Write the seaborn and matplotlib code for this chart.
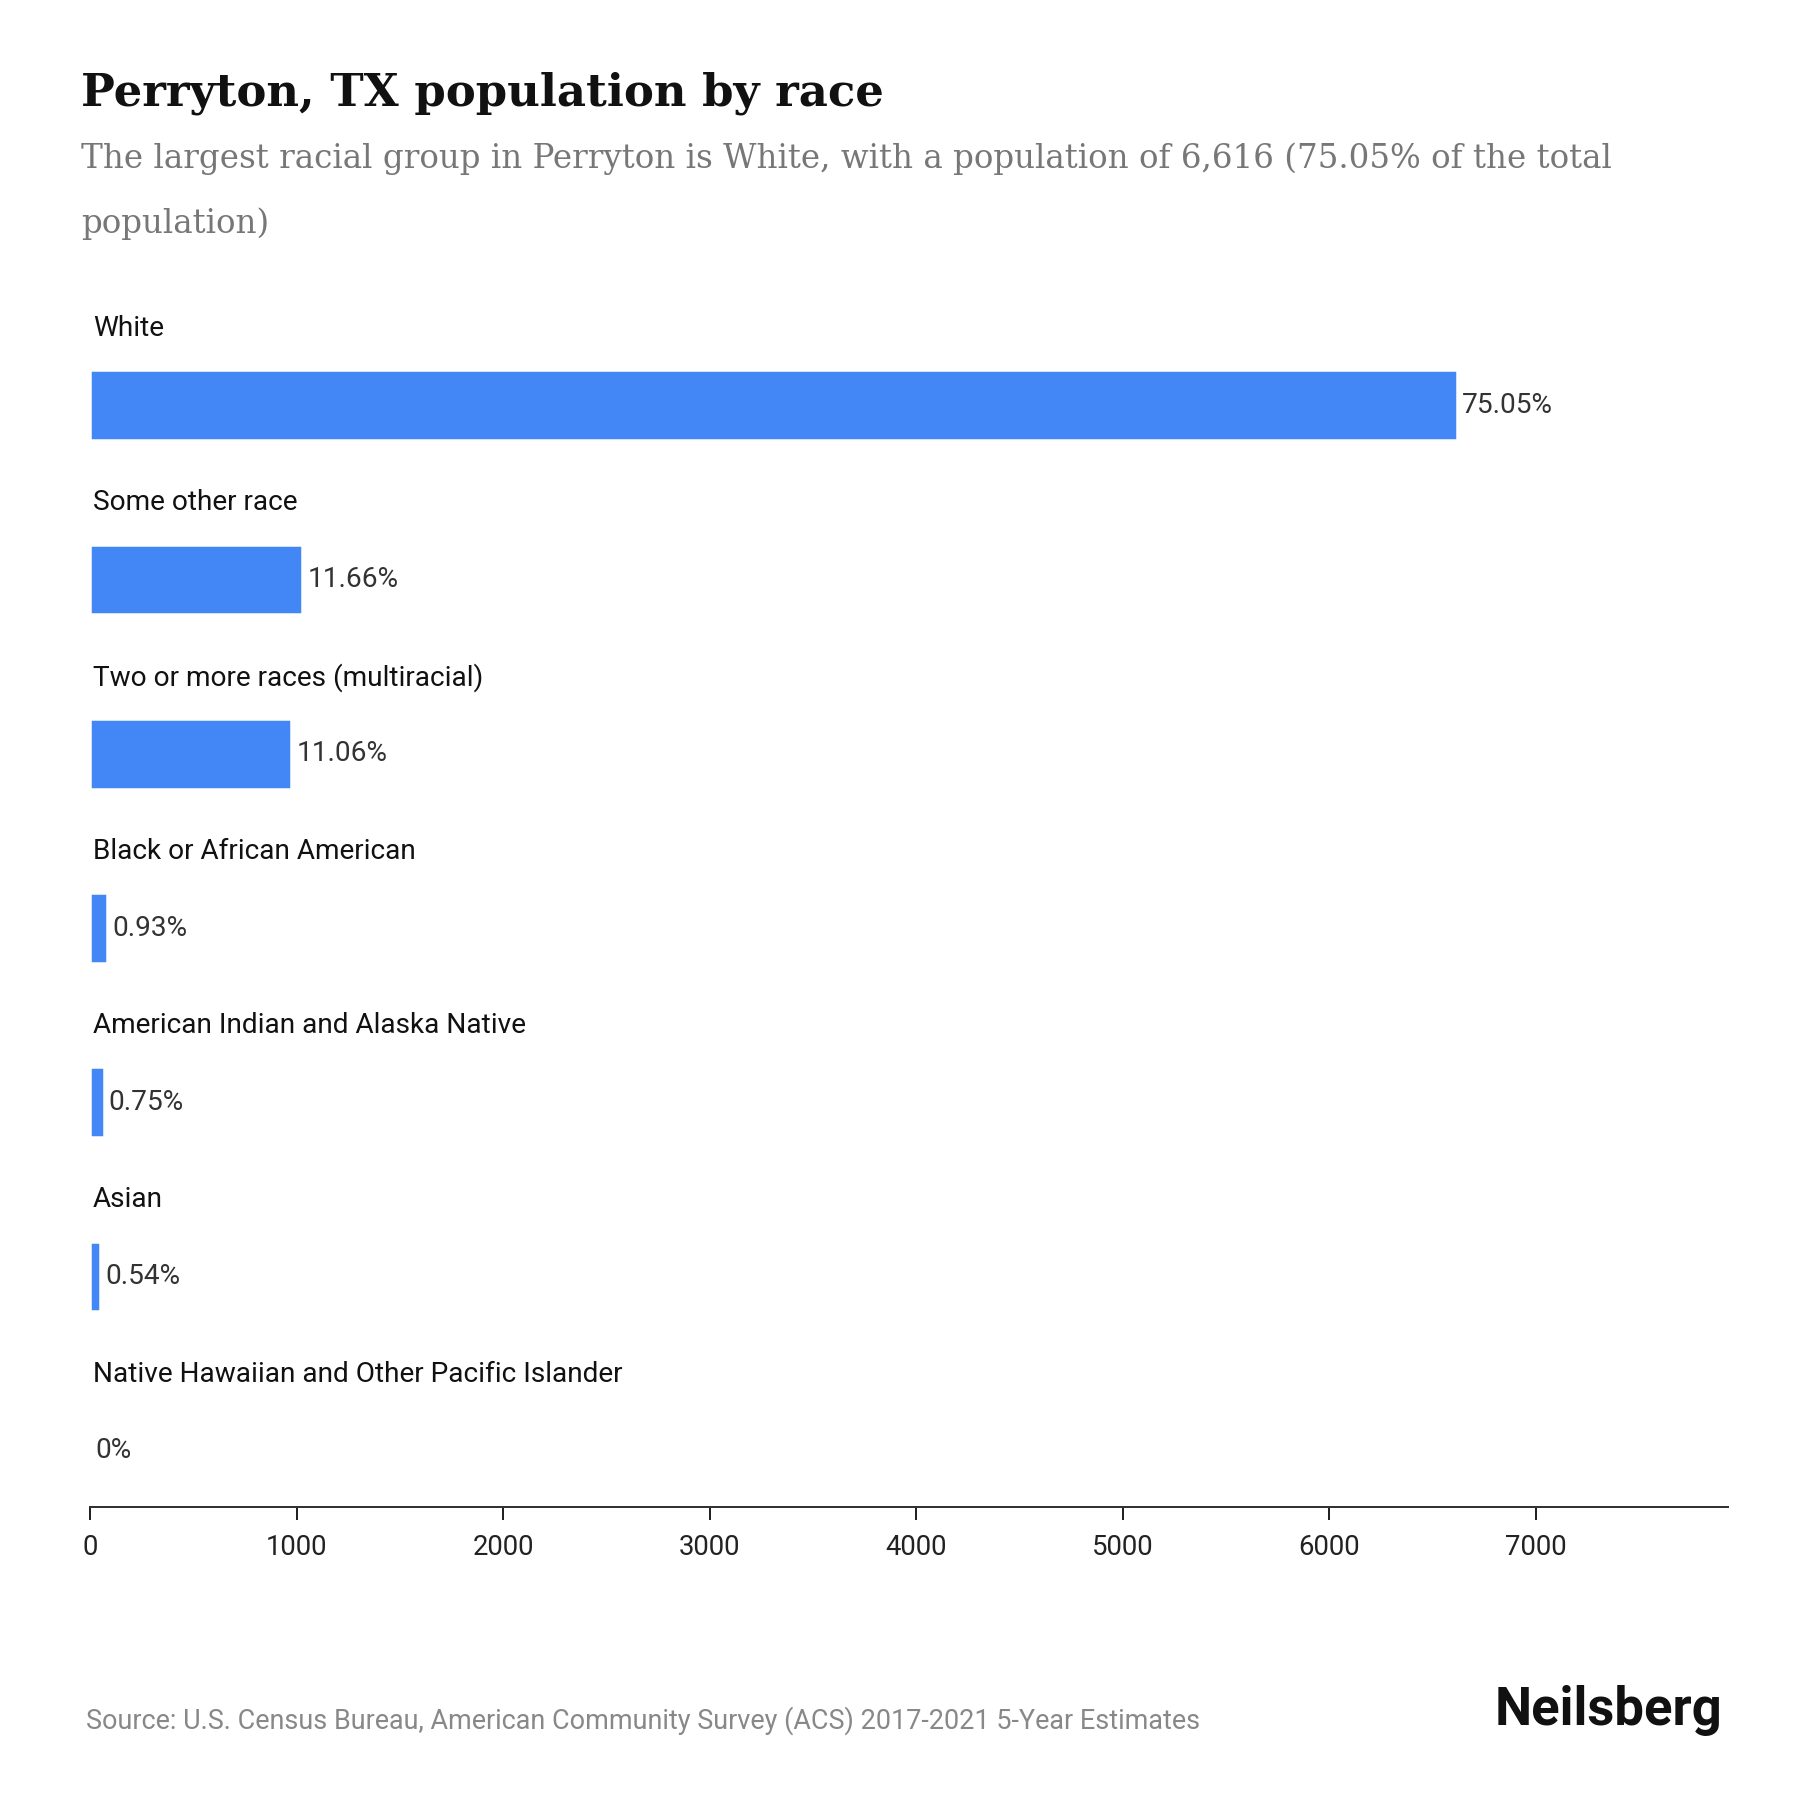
import matplotlib
matplotlib.use("Agg")
import matplotlib.pyplot as plt
import seaborn as sns
import pandas as pd

categories = ["White", "Some other race", "Two or more races (multiracial)",
              "Black or African American", "American Indian and Alaska Native",
              "Asian", "Native Hawaiian and Other Pacific Islander"]
populations = [6616, 1028, 975, 82, 66, 48, 0]
pct_labels = ["75.05%", "11.66%", "11.06%", "0.93%", "0.75%", "0.54%", "0%"]
xticks = [0, 1000, 2000, 3000, 4000, 5000, 6000, 7000]

sns.set_theme(style="white")
plt.rcParams['font.family'] = ['Roboto', 'DejaVu Sans']

df = pd.DataFrame({"race": categories, "pop": populations})
fig = plt.figure(figsize=(10, 10), dpi=180)
ax = fig.add_axes([0.05, 0.163, 0.91, 0.667])
sns.barplot(data=df, y="race", x="pop", orient="h", color="#4287f5",
            saturation=1, width=0.4, ax=ax)
ax.set_xlim(0, 7930)
ax.set_ylim(6.32, -0.57)
ax.set_yticks([])
ax.set_ylabel(""); ax.set_xlabel("")
ax.set_xticks(xticks)
ax.tick_params(axis='x', labelsize=11, colors="#222222", length=5, width=0.8,
               bottom=True, pad=6)
for s in ["top", "right", "left"]:
    ax.spines[s].set_visible(False)
ax.spines["bottom"].set_color("#333333")
ax.spines["bottom"].set_linewidth(0.8)
for i, (c, v, p) in enumerate(zip(categories, populations, pct_labels)):
    ax.text(15, i - 0.44, c, va="center", ha="left", fontsize=11.2,
            color="#111111")
    ax.text(v + 25, i, p, va="center", ha="left", fontsize=11.2,
            color="#333333")

fig.text(0.045, 0.948, "Perryton, TX population by race", fontsize=18,
         fontweight="bold", family="DejaVu Serif", va="center", color="#111111")
fig.text(0.045, 0.912, "The largest racial group in Perryton is White, with a population of 6,616 (75.05% of the total",
         fontsize=13, family="DejaVu Serif", va="center", color="#777777")
fig.text(0.045, 0.876, "population)", fontsize=13, family="DejaVu Serif",
         va="center", color="#777777")
fig.text(0.048, 0.044, "Source: U.S. Census Bureau, American Community Survey (ACS) 2017-2021 5-Year Estimates",
         fontsize=10.8, color="#888888", va="center")
fig.text(0.957, 0.05, "Neilsberg", fontsize=21, fontweight="bold", ha="right",
         va="center", color="#111111")
fig.savefig("out.png", dpi=180, facecolor="white")
